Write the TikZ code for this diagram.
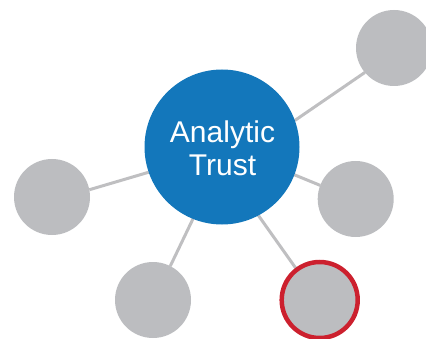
\documentclass[tikz,border=0pt]{standalone}
\usepackage{fontspec}
\setmainfont{Liberation Sans}
\usetikzlibrary{backgrounds}
\definecolor{atblue}{HTML}{1377BB}
\definecolor{atgray}{HTML}{BCBDC0}
\definecolor{atred}{HTML}{CC202E}
\definecolor{atline}{HTML}{BFBFC1}
\begin{document}
\begin{tikzpicture}[x=1pt,y=1pt,
  hub/.style={circle,fill=atblue,minimum size=155pt,inner sep=0pt,outer sep=0pt},
  label/.style={text=white,align=center,inner sep=0pt,font=\fontsize{30}{33.5}\selectfont},
  leaf/.style={circle,fill=atgray,minimum size=76pt,inner sep=0pt,outer sep=0pt},
  hot/.style={leaf,draw=atred,line width=4.5pt},
  link/.style={draw=atline,line width=3pt}]
\useasboundingbox (0,0) rectangle (426,338);
\node[hub] (c) at (222,191) {};
\node[label,anchor=base] (t) at (222.5,162) {Analytic\\Trust};
\node[leaf] (tr) at (394,290) {};
\node[leaf] (l) at (52,141) {};
\node[leaf] (r) at (355.7,139) {};
\node[leaf] (bl) at (153,38) {};
\node[hot] (br) at (319.7,38) {};
\begin{pgfonlayer}{background}
\draw[link] (c.20.5) -- (tr.220.4);
\draw[link] (c.199.1) -- (l.11.9);
\draw[link] (c.-21.4) -- (r.159);
\draw[link] (c.248.7) -- (bl.63.6);
\draw[link] (c.-62.5) -- (br.127.9);
\end{pgfonlayer}
\end{tikzpicture}
\end{document}
